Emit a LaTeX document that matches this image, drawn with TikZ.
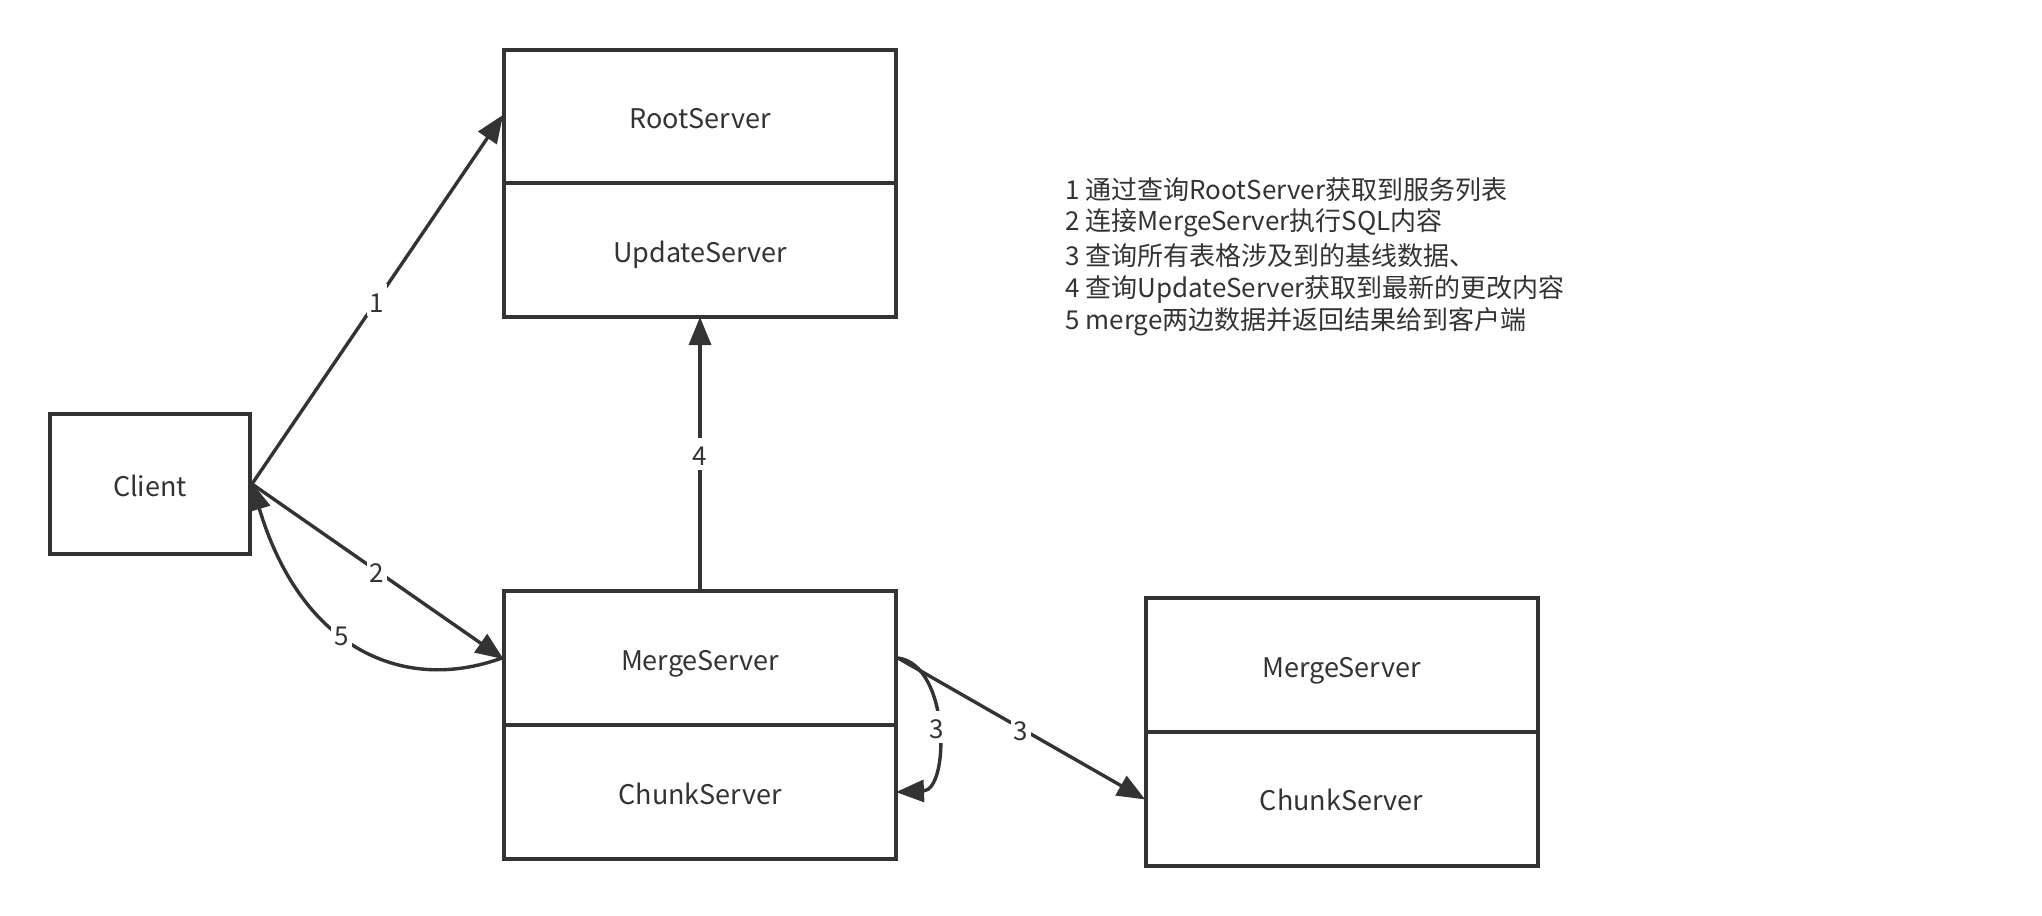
\documentclass[tikz,border=0pt]{standalone}
\usepackage{fontspec}
\setmainfont{Noto Sans CJK SC}
\usetikzlibrary{arrows.meta}
\definecolor{ink}{HTML}{333333}
\tikzset{
  cell/.style={draw=ink, line width=2pt, fill=white, text=ink, minimum width=196pt, minimum height=67pt, inner sep=0pt, text height=12.5pt, text depth=0.5pt, font=\fontsize{13.5}{16}\selectfont},
  conn/.style={draw=ink, line width=1.7pt, shorten >=-1pt, -{Triangle[length=14pt,width=11pt]}},
  lbl/.style={fill=white, text=ink, inner sep=1.5pt, text height=12.3pt, text depth=0.5pt, font=\fontsize{13}{15}\selectfont},
  note/.style={anchor=west, text=ink, inner sep=0pt, font=\fontsize{13}{15}\selectfont}
}
\begin{document}
\begin{tikzpicture}[x=0.5pt, y=-0.5pt]
\useasboundingbox (0,0) rectangle (2042,916);
% boxes
\node[cell] (root) at (700,116.5) {RootServer};
\node[cell] (update) at (700,250) {UpdateServer};
\node[cell, minimum width=100pt, minimum height=70pt] (client) at (150,484) {Client};
\node[cell] (merge) at (700,658) {MergeServer};
\node[cell] (chunk) at (700,792) {ChunkServer};
\node[cell] (merge2) at (1341.5,665) {MergeServer};
\node[cell] (chunk2) at (1341.5,798.5) {ChunkServer};
% notes
\node[note] (n1) at (1065,190) {1 通过查询RootServer获取到服务列表};
\node[note] (n2) at (1065,223) {2 连接MergeServer执行SQL内容};
\node[note] (n3) at (1065,256) {3 查询所有表格涉及到的基线数据、};
\node[note] (n4) at (1065,289) {4 查询UpdateServer获取到最新的更改内容};
\node[note] (n5) at (1065,322) {5 merge两边数据并返回结果给到客户端};
% connectors
\draw[conn] (client.east) -- node[lbl] {1} (root.west);
\draw[conn] (client.east) -- node[lbl] {2} (merge.west);
\draw[conn] (merge.west) .. controls (400,695) and (300,645) .. node[lbl, pos=0.56] {5} (client.east);
\draw[conn] (merge.north) -- node[lbl] {4} (update.south);
\draw[conn] (merge.east) .. controls (950,665) and (950,790) .. node[lbl, pos=0.5] {3} (chunk.east);
\draw[conn] (merge.east) -- node[lbl] {3} (chunk2.west);
\end{tikzpicture}
\end{document}
